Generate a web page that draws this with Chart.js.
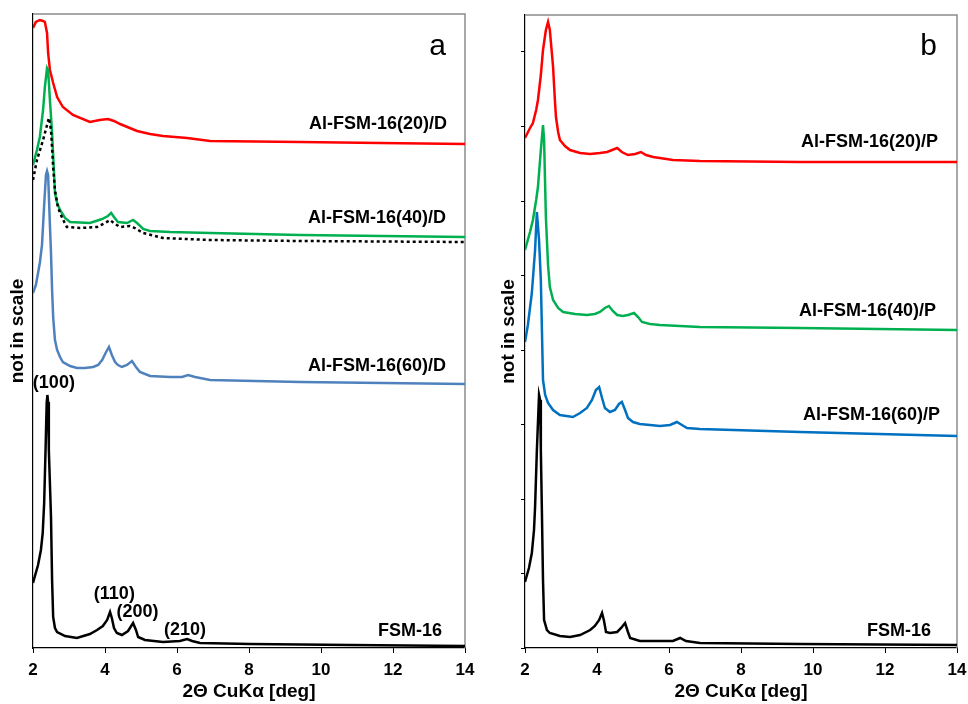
<!DOCTYPE html>
<html>
<head>
<meta charset="utf-8">
<script src="https://cdn.jsdelivr.net/npm/chart.js@4.4.0/dist/chart.umd.min.js"></script>
<style>
  html, body { margin: 0; padding: 0; background: #fff; }
  #wrap { position: relative; width: 968px; height: 704px; }
  .panel { position: absolute; top: 0; width: 484px; height: 704px; }
</style>
</head>
<body>
<div id="wrap">
  <div class="panel" style="left:0"><canvas id="chartA" width="484" height="704"></canvas></div>
  <div class="panel" style="left:484px"><canvas id="chartB" width="484" height="704"></canvas></div>
</div>
<script>
// 2θ [deg] vs intensity (arbitrary units, curves offset - "not in scale")
const xTicks = [2, 4, 6, 8, 10, 12, 14];

// panel a
const aFsm16 = [[2.00,65],[2.14,83],[2.22,98],[2.27,115],[2.31,145],[2.35,200],[2.38,245],[2.40,253],[2.42,246],[2.44,198],[2.50,131],[2.53,68],[2.56,31],[2.61,20],[2.67,16],[2.89,12],[3.22,10],[3.58,14],[3.78,18],[3.94,22],[4.06,28],[4.14,36],[4.19,30],[4.25,20],[4.33,15],[4.47,13],[4.64,17],[4.78,25],[4.86,18],[4.92,11],[5.11,8],[5.61,6],[6.08,7],[6.28,9],[6.42,7],[6.64,5],[8.03,4],[10.81,3],[14.00,2]];
const aAl60D = [[2.00,355],[2.08,363],[2.19,385],[2.25,403],[2.31,443],[2.36,473],[2.39,477],[2.42,473],[2.47,423],[2.50,395],[2.53,358],[2.56,331],[2.61,308],[2.67,298],[2.75,291],[2.83,286],[3.03,282],[3.22,280],[3.44,280],[3.67,281],[3.81,283],[3.92,288],[4.03,296],[4.11,301],[4.19,293],[4.28,286],[4.36,283],[4.47,281],[4.61,283],[4.75,287],[4.86,281],[4.97,276],[5.25,272],[5.81,271],[6.14,271],[6.31,273],[6.50,271],[6.92,268],[9.42,266],[14.00,264]];
const aAl40D = [[2.00,483],[2.11,498],[2.19,511],[2.28,538],[2.33,561],[2.39,580],[2.42,578],[2.47,548],[2.53,515],[2.58,478],[2.61,455],[2.67,445],[2.75,438],[2.89,430],[3.03,426],[3.58,425],[3.92,429],[4.08,432],[4.17,435],[4.25,431],[4.36,426],[4.61,425],[4.78,428],[4.89,425],[5.06,419],[5.25,417],[5.81,416],[6.92,415],[9.42,413],[14.00,411]];
const aDotted = [[2.00,468],[2.11,488],[2.28,508],[2.39,523],[2.44,530],[2.50,518],[2.56,481],[2.61,458],[2.69,441],[2.81,430],[2.94,421],[3.31,420],[3.78,421],[4.00,425],[4.14,428],[4.28,424],[4.42,421],[4.69,422],[4.83,420],[5.06,415],[5.61,410],[6.92,408],[9.42,407],[14.00,406]];
const aAl20D = [[2.00,620],[2.08,626],[2.19,628],[2.28,627],[2.33,626],[2.39,615],[2.42,595],[2.47,578],[2.56,565],[2.67,551],[2.83,541],[3.11,533],[3.58,526],[3.85,528],[4.08,529],[4.25,527],[4.42,524],[4.89,517],[5.25,514],[5.61,512],[6.28,510],[6.92,507],[9.42,506],[11.64,505],[14.00,504]];

// panel b
const bFsm16 = [[2.00,66],[2.11,80],[2.19,95],[2.25,118],[2.28,141],[2.33,198],[2.39,253],[2.42,248],[2.44,198],[2.47,135],[2.50,68],[2.53,28],[2.61,18],[2.69,15],[2.97,12],[3.25,11],[3.53,13],[3.81,18],[3.94,22],[4.06,28],[4.14,35],[4.19,28],[4.25,16],[4.36,15],[4.56,16],[4.67,20],[4.78,25],[4.86,16],[4.92,10],[5.19,7],[5.75,7],[6.11,7],[6.31,10],[6.47,7],[6.86,5],[9.64,4],[14.00,3]];
const bAl60P = [[2.00,306],[2.08,323],[2.19,355],[2.28,398],[2.33,436],[2.39,408],[2.44,368],[2.47,318],[2.50,268],[2.56,253],[2.64,245],[2.78,238],[2.97,233],[3.33,231],[3.53,235],[3.72,240],[3.86,248],[3.97,258],[4.06,261],[4.14,250],[4.22,240],[4.36,236],[4.50,238],[4.61,244],[4.69,246],[4.78,238],[4.86,230],[5.00,226],[5.19,224],[5.75,222],[6.03,223],[6.22,226],[6.36,223],[6.50,220],[6.86,219],[9.64,216],[14.00,212]];
const bAl40P = [[2.00,398],[2.14,416],[2.22,428],[2.31,448],[2.36,461],[2.44,498],[2.50,523],[2.53,508],[2.58,431],[2.64,383],[2.69,361],[2.78,348],[2.92,340],[3.06,336],[3.39,334],[3.72,333],[3.94,334],[4.08,336],[4.22,340],[4.33,342],[4.44,337],[4.56,333],[4.72,332],[4.86,333],[5.03,335],[5.14,331],[5.25,326],[5.47,324],[5.75,323],[6.86,321],[9.64,320],[14.00,318]];
const bAl20P = [[2.00,510],[2.14,520],[2.22,525],[2.31,538],[2.36,548],[2.44,573],[2.50,598],[2.58,618],[2.64,626],[2.69,618],[2.78,581],[2.83,548],[2.86,531],[2.92,516],[2.97,508],[3.11,502],[3.25,498],[3.53,495],[3.81,494],[4.08,495],[4.28,496],[4.42,498],[4.56,500],[4.69,496],[4.86,493],[5.06,494],[5.22,496],[5.36,493],[5.56,491],[6.11,488],[6.86,487],[9.64,486],[14.00,486]];

// text annotations, placed in data coordinates
const notesA = [
  { text: 'a', x: 13.47, y: 593, align: 'right', base: 'alphabetic', font: '30px "Liberation Sans", Arial, sans-serif' },
  { text: 'Al-FSM-16(20)/D', x: 13.50, y: 524, align: 'right' },
  { text: 'Al-FSM-16(40)/D', x: 13.47, y: 430, align: 'right' },
  { text: 'Al-FSM-16(60)/D', x: 13.47, y: 282, align: 'right' },
  { text: 'FSM-16', x: 13.36, y: 17, align: 'right' },
  { text: '(100)', x: 2.58, y: 265, align: 'center' },
  { text: '(110)', x: 4.26, y: 54, align: 'center' },
  { text: '(200)', x: 4.90, y: 36, align: 'center' },
  { text: '(210)', x: 6.22, y: 18, align: 'center' }
];
const notesB = [
  { text: 'b', x: 13.44, y: 593, align: 'right', base: 'alphabetic', font: '30px "Liberation Sans", Arial, sans-serif' },
  { text: 'Al-FSM-16(20)/P', x: 13.47, y: 506, align: 'right' },
  { text: 'Al-FSM-16(40)/P', x: 13.42, y: 337, align: 'right' },
  { text: 'Al-FSM-16(60)/P', x: 13.53, y: 233, align: 'right' },
  { text: 'FSM-16', x: 13.28, y: 17, align: 'right' }
];

const FONT = '"Liberation Sans", Arial, sans-serif';
Chart.defaults.font.family = FONT;
Chart.defaults.color = '#000';

function pts(arr) {
  return arr.map(p => ({ x: p[0], y: p[1] }));
}

function line(data, color, dash) {
  return {
    data: pts(data),
    borderColor: color,
    borderWidth: 2.5,
    borderDash: dash || [],
    pointRadius: 0,
    tension: 0,
    fill: false
  };
}

// grey frame on top/right + annotation texts
const panelDecor = {
  id: 'panelDecor',
  beforeDatasetsDraw(chart) {
    const { ctx, chartArea: a } = chart;
    ctx.save();
    ctx.strokeStyle = '#8c8c8c';
    ctx.lineWidth = 1.5;
    ctx.beginPath();
    ctx.moveTo(a.left, a.top);
    ctx.lineTo(a.right, a.top);
    ctx.lineTo(a.right, a.bottom);
    ctx.stroke();
    ctx.restore();
  },
  afterDatasetsDraw(chart, args, opts) {
    const { ctx } = chart;
    const sx = chart.scales.x, sy = chart.scales.y;
    ctx.save();
    ctx.fillStyle = '#000';
    (opts.notes || []).forEach(n => {
      ctx.font = n.font || ('bold 18px ' + FONT);
      ctx.textAlign = n.align;
      ctx.textBaseline = n.base || 'middle';
      ctx.fillText(n.text, sx.getPixelForValue(n.x), sy.getPixelForValue(n.y));
    });
    ctx.restore();
  }
};

function makeChart(id, datasets, notes, cfg) {
  return new Chart(document.getElementById(id), {
    type: 'line',
    data: { datasets: datasets },
    plugins: [panelDecor],
    options: {
      responsive: false,
      animation: false,
      devicePixelRatio: 1,
      layout: { padding: { top: cfg.top, right: cfg.right, left: 0, bottom: 0 } },
      plugins: {
        legend: { display: false },
        tooltip: { enabled: false },
        panelDecor: { notes: notes }
      },
      scales: {
        x: {
          type: 'linear',
          min: 2, max: 14,
          afterBuildTicks: s => { s.ticks = xTicks.map(v => ({ value: v })); },
          afterFit: s => { s.height = 56; s.paddingLeft = 0; s.paddingRight = 0; },
          border: { color: '#000', width: 1.2 },
          grid: { drawOnChartArea: false, drawTicks: true, tickLength: 5, color: '#000' },
          ticks: { font: { size: 17, weight: 'bold' }, padding: 7, maxRotation: 0 },
          title: {
            display: true,
            text: '2Θ CuKα [deg]',
            font: { size: 19, weight: 'bold' },
            padding: { top: 0, bottom: 1 }
          }
        },
        y: {
          type: 'linear',
          min: 0, max: cfg.ymax,
          afterFit: s => { s.width = cfg.yWidth; s.paddingTop = 0; s.paddingBottom = 0; },
          border: { color: '#000', width: 1.2 },
          grid: { drawOnChartArea: false, drawTicks: cfg.yTicks, tickLength: 4, color: '#000' },
          ticks: { display: false, stepSize: 74.5, includeBounds: false },
          title: {
            display: true,
            text: 'not in scale',
            font: { size: 19, weight: 'bold' },
            padding: { top: cfg.titlePad, bottom: 0 }
          }
        }
      }
    }
  });
}

makeChart('chartA', [
  line(aFsm16, '#000000'),
  line(aAl60D, '#4f81bd'),
  line(aDotted, '#000000', [3, 3]),
  line(aAl40D, '#00b050'),
  line(aAl20D, '#ff0000')
], notesA, { top: 14, right: 19, yWidth: 33, ymax: 634, yTicks: false, titlePad: 6 });

makeChart('chartB', [
  line(bFsm16, '#000000'),
  line(bAl60P, '#0070c0'),
  line(bAl40P, '#00b050'),
  line(bAl20P, '#ff0000')
], notesB, { top: 15, right: 11, yWidth: 41, ymax: 633, yTicks: true, titlePad: 13 });
</script>
</body>
</html>
